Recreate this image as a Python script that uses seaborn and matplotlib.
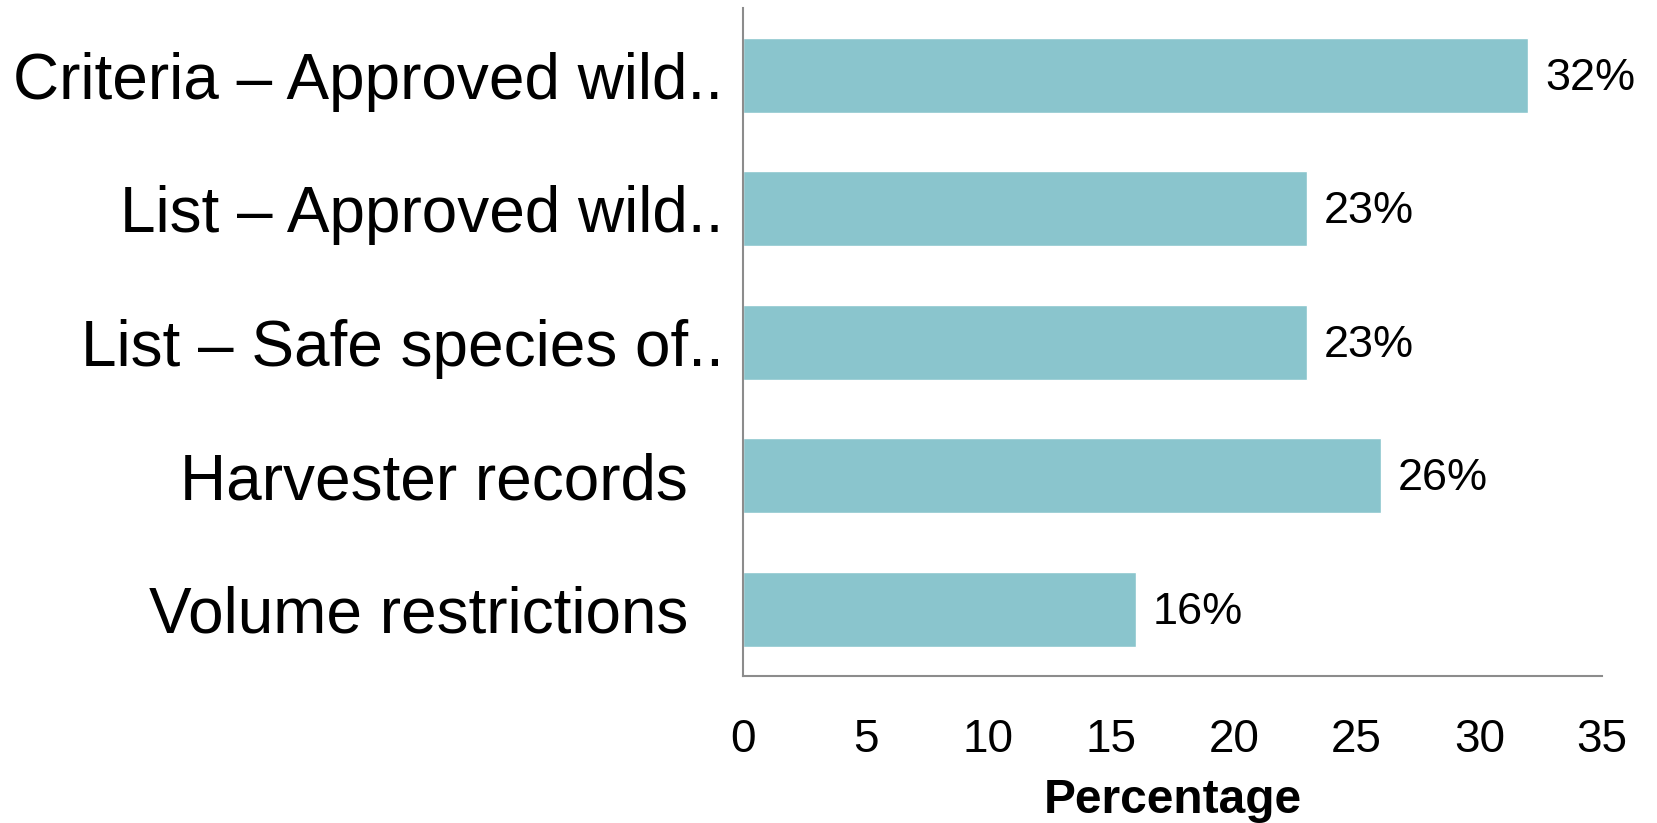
import numpy as np
import pandas as pd
import seaborn as sns
import matplotlib.pyplot as plt

# data
categories = ["Criteria – Approved wild..", "List – Approved wild..",
              "List – Safe species of..", "Harvester records  ",
              "Volume restrictions  "]
percentages = [32, 23, 23, 26, 16]
x_ticks = [0, 5, 10, 15, 20, 25, 30, 35]

df = pd.DataFrame({"category": categories, "pct": percentages})

sns.set_style("white")
plt.rcParams["font.family"] = ["Liberation Sans", "DejaVu Sans"]
plt.rcParams["text.color"] = "black"
plt.rcParams["xtick.color"] = "black"
plt.rcParams["ytick.color"] = "black"
plt.rcParams["axes.labelcolor"] = "black"

fig = plt.figure(figsize=(16.57, 8.23), dpi=100)
ax = fig.add_axes([0.4484, 0.1786, 0.5184, 0.8111])

sns.barplot(data=df, x="pct", y="category", color="#8AC5CD", width=0.56,
            saturation=1, ax=ax)

# value labels at the end of each bar
for p in ax.patches:
    w = p.get_width()
    ax.annotate("{:d}%".format(int(w)), (w, p.get_y() + p.get_height() / 2),
                xytext=(12, -2), textcoords="offset points",
                ha="left", va="center", fontsize=32.5)

ax.set_xlim(0, 35)
ax.set_xticks(x_ticks)
ax.set_xlabel("Percentage", fontsize=34.5, fontweight="bold", labelpad=12)
ax.set_ylabel("")
ax.tick_params(axis="x", labelsize=33, length=0, pad=30)
ax.tick_params(axis="y", labelsize=46, length=0, pad=14)

for side in ["top", "right"]:
    ax.spines[side].set_visible(False)
for side in ["left", "bottom"]:
    ax.spines[side].set_color("#8c8c8c")
    ax.spines[side].set_linewidth(1.5)

plt.savefig("out.png", dpi=100)
